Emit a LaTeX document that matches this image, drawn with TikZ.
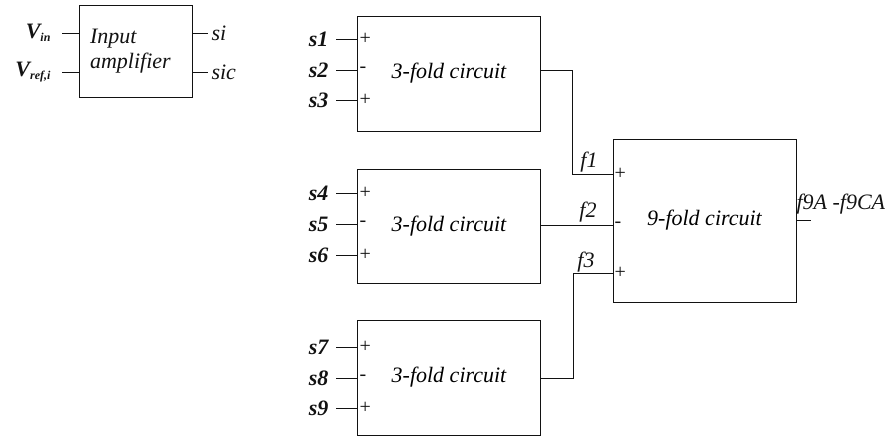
\documentclass[tikz,border=0pt]{standalone}
\usepackage{fontspec}
\setmainfont{Liberation Serif}
\usepackage{tikz}
\usetikzlibrary{positioning,calc}
\definecolor{ckink}{HTML}{121212}
\newcommand{\dfont}{\fontsize{22}{25}\selectfont}
\newcommand{\sgfont}{\fontsize{20}{22}\selectfont}

\begin{document}
\begin{tikzpicture}[x=1pt,y=-1pt,
    blk/.style={draw=ckink,line width=1pt,minimum width=183pt,inner sep=0pt,font=\dfont\itshape},
    wire/.style={draw=ckink,line width=0.9pt},
    slbl/.style={font=\dfont\bfseries\itshape,text=ckink},
    flbl/.style={font=\dfont\itshape,text=ckink},
    sgn/.style={font=\sgfont,text=ckink,inner sep=1.5pt}]
  \useasboundingbox (0,0) rectangle (891,437);
  % input amplifier
  \node[blk,minimum width=113pt,minimum height=92pt] (amp) at (135.5,51) {};
  \node[flbl,align=left,anchor=west] (amptxt) at (amp.west) {\hspace*{8pt}Input\\\hspace*{8pt}amplifier};
  \node[slbl,anchor=east] (vin) at (54,33) {V\raisebox{-0.35ex}{\fontsize{12}{13}\selectfont in}};
  \node[slbl,anchor=east] (vref) at (54,72) {V\raisebox{-0.35ex}{\fontsize{12}{13}\selectfont ref,i}};
  \node[flbl,anchor=west] (si) at (208,33) {si};
  \node[flbl,anchor=west] (sic) at (208,72) {sic};
  \draw[wire,shorten <=8pt] (vin.east) -- (vin.east -| amp.west);
  \draw[wire,shorten <=8pt] (vref.east) -- (vref.east -| amp.west);
  \draw[wire] (si.west -| amp.east) -- (si.west);
  \draw[wire] (sic.west -| amp.east) -- (sic.west);
  % 3-fold and 9-fold blocks
  \node[blk,minimum height=115pt] (b1) at (449,73.5) {3-fold circuit};
  \node[blk,minimum height=114pt] (b2) at (449,226) {3-fold circuit};
  \node[blk,minimum height=115pt] (b3) at (449,377.5) {3-fold circuit};
  \node[blk,minimum height=163pt] (b9) at (704.5,220.5) {9-fold circuit};
  % s inputs
  \foreach \k/\yy/\sg in {1/39/+,2/70/-,3/100/+,4/193/+,5/224/-,6/255/+,7/347/+,8/378/-,9/408/+} {
    \coordinate (p\k) at (358,\yy);
    \node[slbl,anchor=east] (s\k) at (332,\yy) {s\k};
    \node[sgn,anchor=west] (g\k) at (p\k) {\sg};
    \draw[wire,shorten <=4pt] (s\k.east) -- (p\k);
  }
  % f inputs of the 9-fold block
  \foreach \k/\yy/\sg in {1/174/+,2/225/-,3/273/+} {
    \coordinate (q\k) at (613,\yy);
    \node[sgn,anchor=west] (h\k) at (q\k) {\sg};
  }
  \coordinate (o1) at (540,70);
  \coordinate (o2) at (540,225);
  \coordinate (o3) at (540,378);
  \draw[wire] (o1) -- ++(32,0) |- (q1);
  \draw[wire] (o2) -- (q2);
  \draw[wire] (o3) -- ++(33,0) |- (q3);
  \node[flbl] (f1) at (589,162) {f1};
  \node[flbl] (f2) at (588,212) {f2};
  \node[flbl] (f3) at (586,262) {f3};
  % output
  \coordinate (out9) at (811,220.5);
  \draw[wire] (b9.east) -- (out9);
  \node[flbl,anchor=west] (f9) at (793,204) {f9A -f9CA};
\end{tikzpicture}
\end{document}
